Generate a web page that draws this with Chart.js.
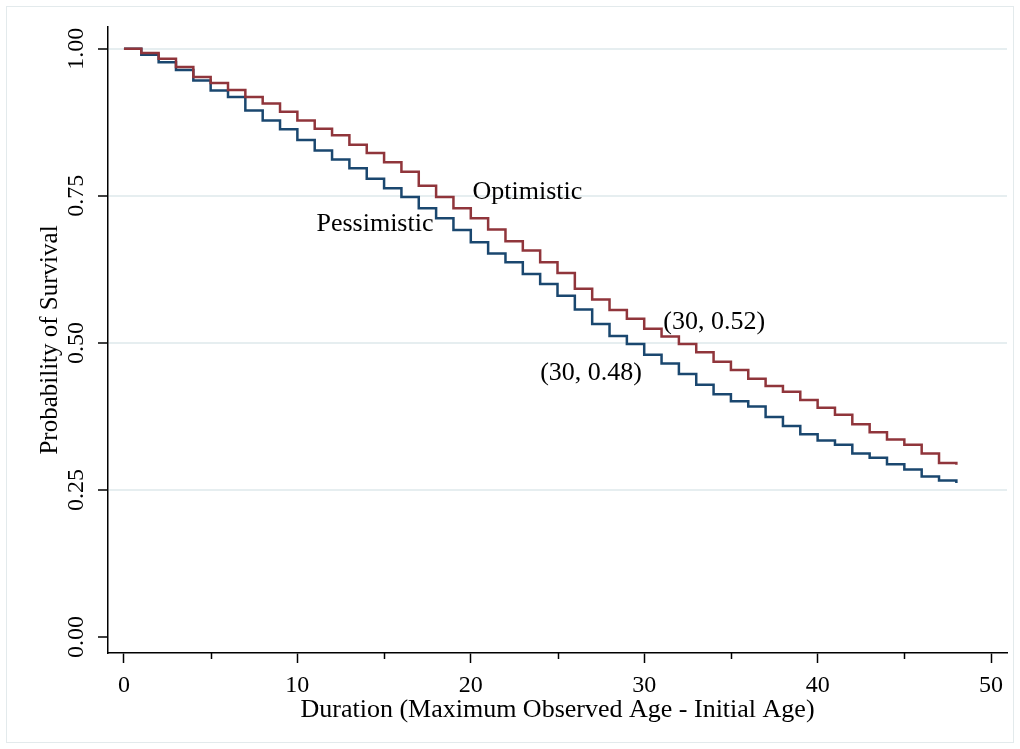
<!DOCTYPE html>
<html>
<head>
<meta charset="utf-8">
<script src="https://cdn.jsdelivr.net/npm/chart.js@4/dist/chart.umd.min.js"></script>
<style>
  body { margin: 0; background: #fff; }
  canvas { display: block; }
</style>
</head>
<body>
<canvas id="grafico" width="1020" height="749"></canvas>
<script>
// duration in years
const duration = [0, 1, 2, 3, 4, 5, 6, 7, 8, 9, 10, 11, 12, 13, 14, 15, 16, 17, 18, 19, 20,
  21, 22, 23, 24, 25, 26, 27, 28, 29, 30, 31, 32, 33, 34, 35, 36, 37, 38, 39, 40,
  41, 42, 43, 44, 45, 46, 47, 48];

const optimistic = [1.000, 0.993, 0.983, 0.969, 0.952, 0.942, 0.930, 0.918, 0.907, 0.893,
  0.878, 0.864, 0.853, 0.837, 0.823, 0.807, 0.791, 0.767, 0.748, 0.729,
  0.712, 0.693, 0.673, 0.657, 0.637, 0.619, 0.592, 0.574, 0.556, 0.541,
  0.524, 0.511, 0.498, 0.484, 0.468, 0.454, 0.439, 0.427, 0.417, 0.403,
  0.390, 0.378, 0.362, 0.348, 0.336, 0.327, 0.312, 0.296, 0.293];

const pessimistic = [1.000, 0.990, 0.977, 0.964, 0.946, 0.929, 0.918, 0.895, 0.878, 0.863,
  0.845, 0.827, 0.812, 0.797, 0.779, 0.763, 0.748, 0.729, 0.712, 0.692,
  0.671, 0.652, 0.637, 0.617, 0.600, 0.580, 0.557, 0.532, 0.512, 0.498,
  0.480, 0.465, 0.447, 0.429, 0.413, 0.401, 0.392, 0.374, 0.359, 0.345,
  0.334, 0.327, 0.312, 0.305, 0.294, 0.285, 0.273, 0.266, 0.262];

const xTicks = [0, 10, 20, 30, 40, 50];
const xMinorTicks = [5, 15, 25, 35, 45];
const yTicks = [0, 0.25, 0.5, 0.75, 1];

// text labels placed in data units
const noteText = ["Optimistic", "Pessimistic", "(30, 0.52)", "(30, 0.48)"];
const noteX = [20.1, 11.1, 31.1, 24.0];
const noteY = [0.757, 0.702, 0.536, 0.449];

const FONT = "'Liberation Serif', 'DejaVu Serif', serif";
Chart.defaults.font.family = FONT;
Chart.defaults.color = '#000';

function toPoints(ys) {
  return duration.map((d, i) => ({ x: d, y: ys[i] }));
}

const marco = {
  id: 'marco',
  beforeDraw(chart) {
    const ctx = chart.ctx;
    ctx.save();
    ctx.fillStyle = '#fff';
    ctx.fillRect(0, 0, chart.width, chart.height);
    ctx.strokeStyle = '#e3eaec';
    ctx.lineWidth = 1;
    ctx.strokeRect(6.5, 6.5, chart.width - 13, chart.height - 13);
    ctx.restore();
  },
  afterDraw(chart) {
    const ctx = chart.ctx;
    const x = chart.scales.x;
    const y = chart.scales.y;
    ctx.save();
    // minor ticks on the x axis
    ctx.strokeStyle = '#000';
    ctx.lineWidth = 1.5;
    xMinorTicks.forEach(v => {
      const px = Math.round(x.getPixelForValue(v)) + 0.5;
      ctx.beginPath();
      ctx.moveTo(px, x.top);
      ctx.lineTo(px, x.top + 6);
      ctx.stroke();
    });
    // annotations
    ctx.fillStyle = '#000';
    ctx.font = '26px ' + FONT;
    ctx.textAlign = 'left';
    ctx.textBaseline = 'middle';
    noteText.forEach((t, i) => {
      ctx.fillText(t, x.getPixelForValue(noteX[i]), y.getPixelForValue(noteY[i]));
    });
    ctx.restore();
  }
};

const ctx = document.getElementById('grafico').getContext('2d');
new Chart(ctx, {
  type: 'line',
  data: {
    datasets: [
      {
        label: 'Optimistic',
        data: toPoints(optimistic),
        borderColor: '#90353b',
        borderWidth: 2.5,
        stepped: 'before',
        pointRadius: 0,
        fill: false
      },
      {
        label: 'Pessimistic',
        data: toPoints(pessimistic),
        borderColor: '#1a476f',
        borderWidth: 2.5,
        stepped: 'before',
        pointRadius: 0,
        fill: false
      }
    ]
  },
  options: {
    responsive: false,
    animation: false,
    devicePixelRatio: 1,
    layout: { padding: { top: 27, right: 13, left: 0, bottom: 0 } },
    plugins: {
      legend: { display: false },
      tooltip: { enabled: false }
    },
    scales: {
      x: {
        type: 'linear',
        min: -0.92,
        max: 50.92,
        afterBuildTicks: s => { s.ticks = xTicks.map(v => ({ value: v })); },
        ticks: {
          font: { size: 24 },
          padding: 8,
          maxRotation: 0,
          includeBounds: false
        },
        grid: {
          drawOnChartArea: false,
          drawTicks: true,
          tickLength: 10,
          tickColor: '#000',
          tickWidth: 1.5
        },
        border: { display: true, color: '#000', width: 1.5 },
        title: {
          display: true,
          text: 'Duration (Maximum Observed Age - Initial Age)',
          font: { size: 26 },
          padding: { top: 0, bottom: 23 }
        },
        afterFit: s => { s.height = 96; }
      },
      y: {
        type: 'linear',
        min: -0.027,
        max: 1.037,
        afterBuildTicks: s => { s.ticks = yTicks.map(v => ({ value: v })); },
        ticks: {
          font: { size: 24 },
          padding: 0,
          minRotation: 90,
          maxRotation: 90,
          crossAlign: 'center',
          callback: v => v.toFixed(2)
        },
        grid: {
          color: c => (c.tick && c.tick.value === 0 ? 'rgba(0,0,0,0)' : '#e6eef0'),
          lineWidth: 2,
          tickLength: 10,
          tickColor: '#000',
          tickWidth: 1.5
        },
        border: { display: true, color: '#000', width: 1.5 },
        title: {
          display: true,
          text: 'Probability of Survival',
          font: { size: 25 },
          padding: { top: 35, bottom: 0 }
        },
        afterFit: s => { s.width = 108; }
      }
    }
  },
  plugins: [marco]
});
</script>
</body>
</html>
